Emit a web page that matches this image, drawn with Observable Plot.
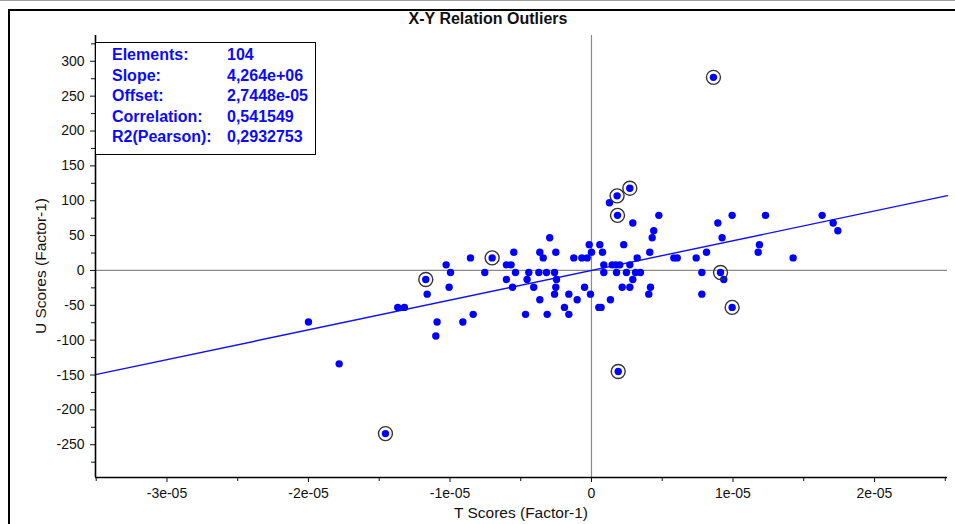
<!DOCTYPE html>
<html>
<head>
<meta charset="utf-8">
<script src="https://cdn.jsdelivr.net/npm/d3@7"></script>
<script src="https://cdn.jsdelivr.net/npm/@observablehq/plot@0.6"></script>
<style>
  html, body { margin: 0; padding: 0; background: #fff; overflow: hidden; }
  #page { position: relative; width: 955px; height: 524px; overflow: hidden;
          font-family: Arial, "Liberation Sans", sans-serif; color: #111; }
  #topline { position: absolute; left: 0; top: 0; width: 955px; border-top: 1px solid #a0a0a0; }
  #frame { position: absolute; left: 8px; top: 9px; width: 1000px; height: 600px;
           border: 2px solid #000; box-sizing: border-box; }
  #chart { position: absolute; left: 0; top: 0; }
  #title { position: absolute; left: 288px; width: 400px; top: 10px; text-align: center;
           font-weight: bold; font-size: 16px; }
  #xlabel { position: absolute; left: 321px; width: 400px; top: 504px; text-align: center; font-size: 15.5px; }
  #ylabel { position: absolute; left: 41px; top: 266px; width: 300px; text-align: center; font-size: 15.5px;
            transform: translate(-50%, -50%) rotate(-90deg); line-height: 18px; }
  #stats { position: absolute; left: 95px; top: 42px; width: 221px; height: 113px; box-sizing: border-box;
           border: 1.5px solid #000; background: #fff; padding: 2px 0 0 16px;
           color: #0a0aff; font-weight: bold; font-size: 16px; line-height: 20.6px; }
  #stats .row { display: flex; }
  #stats .k { width: 115px; }
</style>
</head>
<body>
<div id="page">
  <div id="topline"></div>
  <div id="frame"></div>
  <div id="chart"></div>
  <div id="title"></div>
  <div id="xlabel"></div>
  <div id="ylabel"></div>
  <div id="stats"></div>
</div>
<script>
// T scores (Factor-1) of every element
const tScores = [
  -1.171e-5, -1.027e-5, -0.996e-5, -0.855e-5, -1.006e-5, -1.161e-5, -1.369e-5, -1.322e-5,
  -2.000e-5, -1.091e-5, -1.100e-5, -0.909e-5, -0.836e-5, -1.783e-5, -1.456e-5, 0.189e-5,
  -0.702e-5, 0.181e-5, 0.271e-5, 0.184e-5, 0.127e-5, 0.292e-5, 0.476e-5, 0.440e-5,
  0.429e-5, 0.412e-5, 0.323e-5, 0.228e-5, 0.078e-5, 0.059e-5, 0.000e-5, -0.016e-5,
  -0.030e-5, -0.068e-5, -0.125e-5, -0.252e-5, -0.295e-5, -0.365e-5, -0.341e-5, -0.549e-5,
  -0.601e-5, -0.568e-5, -0.754e-5, -0.537e-5, -0.443e-5, -0.372e-5, -0.318e-5, -0.261e-5,
  -0.247e-5, -0.601e-5, -0.455e-5, -0.558e-5, -0.408e-5, -0.252e-5, -0.049e-5, -0.261e-5,
  -0.160e-5, -0.007e-5, -0.365e-5, -0.101e-5, 0.134e-5, -0.191e-5, 0.052e-5, 0.068e-5,
  -0.466e-5, -0.313e-5, -0.160e-5, 0.087e-5, 0.146e-5, 0.172e-5, 0.200e-5, 0.271e-5,
  0.087e-5, 0.177e-5, 0.247e-5, 0.311e-5, 0.346e-5, 0.292e-5, 0.217e-5, 0.271e-5,
  0.417e-5, 0.405e-5, 0.893e-5, 0.994e-5, 1.230e-5, 1.630e-5, 1.708e-5, 1.741e-5,
  0.923e-5, 1.187e-5, 1.178e-5, 0.813e-5, 0.582e-5, 0.606e-5, 0.740e-5, 1.425e-5,
  0.780e-5, 0.912e-5, 0.935e-5, 0.780e-5, 0.994e-5, 0.862e-5
];

// U scores (Factor-1), same order
const uScores = [
  -13, 8, -3, 18, -24, -34, -53, -53,
  -74, -74, -94, -74, -63, -134, -234, -145,
  18, 107, 118, 79, 97, 68, 79, 57,
  47, 26, 18, 37, 26, 37, 26, 37,
  18, 18, 18, 26, 47, 26, 18, 26,
  8, 8, -3, -3, -3, -3, -3, -3,
  -13, -13, -13, -24, -24, -24, -24, -34,
  -34, -34, -42, -42, -42, -53, -53, -53,
  -63, -63, -63, 8, 8, 8, 8, 8,
  -3, -3, -3, -3, -3, -13, -24, -24,
  -24, -34, 68, 79, 79, 79, 68, 57,
  47, 37, 26, 26, 18, 18, 18, 18,
  -3, -3, -13, -34, -53, 277
];

// indices of the elements flagged as outliers
const outlierIndex = [0, 14, 15, 16, 17, 18, 19, 97, 100, 101];

// regression summary
const statLabels = ["Elements:", "Slope:", "Offset:", "Correlation:", "R2(Pearson):"];
const statValues = ["104", "4,264e+06", "2,7448e-05", "0,541549", "0,2932753"];
const slope = 4.264e6;
const offset = 2.7448e-05;

// axes
const xDomain = [-3.505e-5, 2.516e-5];
const yDomain = [-297, 337];
const xTicks = [-3e-5, -2e-5, -1e-5, 0, 1e-5, 2e-5];
const xMinorTicks = [-3.5e-5, -2.5e-5, -1.5e-5, -0.5e-5, 0.5e-5, 1.5e-5, 2.5e-5];
const yTicks = [-250, -200, -150, -100, -50, 0, 50, 100, 150, 200, 250, 300];
const yMinorTicks = [-275, -225, -175, -125, -75, -25, 25, 75, 125, 175, 225, 275, 325];

const titleText = "X-Y Relation Outliers";
const xLabelText = "T Scores (Factor-1)";
const yLabelText = "U Scores (Factor-1)";

const points = tScores.map((t, i) => ({t, u: uScores[i]}));
const outliers = outlierIndex.map(i => points[i]);

const expFormat = d => d === 0 ? "0" : d.toExponential().replace(/e([+-])(\d)$/, "e$10$2");

const chart = Plot.plot({
  width: 955,
  height: 524,
  marginLeft: 95,
  marginRight: 8,
  marginTop: 35,
  marginBottom: 47,
  style: {background: "none", fontFamily: "Arial, 'Liberation Sans', sans-serif", fontSize: "14px", color: "#111"},
  x: {domain: xDomain},
  y: {domain: yDomain},
  marks: [
    Plot.ruleX([0], {stroke: "#8a8a8a", strokeWidth: 1.2}),
    Plot.ruleY([0], {stroke: "#8a8a8a", strokeWidth: 1.2}),
    Plot.line(xDomain, {x: d => d, y: d => slope * d + offset, stroke: "#1010ff", strokeWidth: 1.4}),
    Plot.dot(points, {x: "t", y: "u", r: 3.7, fill: "#0000ff"}),
    Plot.dot(outliers, {x: "t", y: "u", r: 7, stroke: "#333", strokeWidth: 1.4, fill: "none"}),
    Plot.axisX(xTicks, {anchor: "bottom", tickFormat: expFormat, tickSize: 5, tickPadding: 6, label: null, stroke: "#111"}),
    Plot.axisX(xMinorTicks, {anchor: "bottom", tickFormat: () => "", tickSize: 4, label: null, stroke: "#111"}),
    Plot.axisY(yTicks, {anchor: "left", tickFormat: d => String(d), tickSize: 5, tickPadding: 6, label: null, stroke: "#111"}),
    Plot.axisY(yMinorTicks, {anchor: "left", tickFormat: () => "", tickSize: 4, label: null, stroke: "#111"}),
    Plot.ruleX([xDomain[0]], {stroke: "#000", strokeWidth: 1.6}),
    Plot.ruleY([yDomain[0]], {stroke: "#000", strokeWidth: 1.6})
  ]
});
document.getElementById("chart").appendChild(chart);

document.getElementById("title").textContent = titleText;
document.getElementById("xlabel").textContent = xLabelText;
document.getElementById("ylabel").textContent = yLabelText;

const stats = document.getElementById("stats");
statLabels.forEach((k, i) => {
  const row = document.createElement("div");
  row.className = "row";
  const a = document.createElement("span"); a.className = "k"; a.textContent = k;
  const b = document.createElement("span"); b.textContent = statValues[i];
  row.append(a, b);
  stats.appendChild(row);
});
</script>
</body>
</html>
